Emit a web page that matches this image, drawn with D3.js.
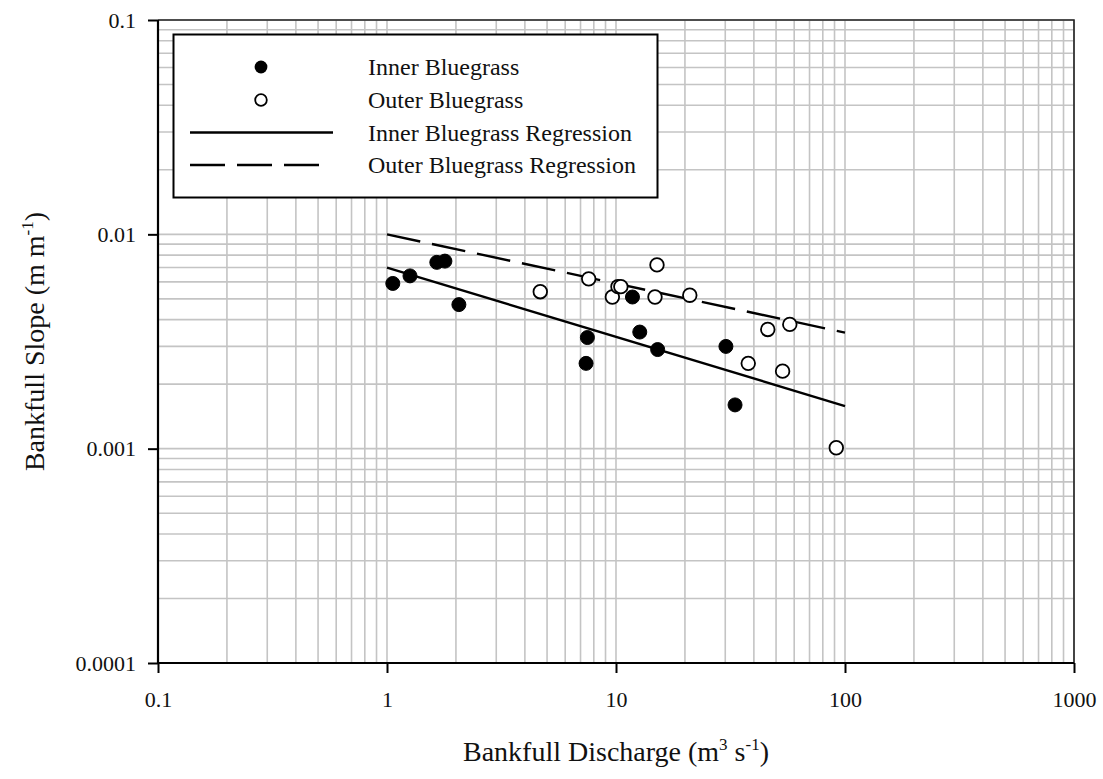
<!DOCTYPE html>
<html>
<head>
<meta charset="utf-8">
<script src="https://cdn.jsdelivr.net/npm/d3@7"></script>
<style>
  html, body { margin: 0; padding: 0; background: #fff; }
  svg { display: block; font-family: "Liberation Serif", "DejaVu Serif", serif; }
</style>
</head>
<body>
<svg id="chart" width="1103" height="779"></svg>
<script>
// Bankfull discharge (m^3/s) and slope (m/m) for each surveyed reach
const innerQ = [1.06, 1.26, 1.65, 1.79, 2.06, 7.5, 7.4, 11.8, 12.7, 15.2, 30.2, 33.1];
const innerS = [0.0059, 0.0064, 0.0074, 0.0075, 0.0047, 0.0033, 0.0025, 0.0051, 0.0035, 0.0029, 0.0030, 0.0016];

const outerQ = [4.67, 7.6, 9.64, 10.2, 10.5, 15.1, 14.8, 21.0, 46.0, 57.4, 37.8, 53.4, 91.6];
const outerS = [0.0054, 0.0062, 0.0051, 0.0057, 0.0057, 0.0072, 0.0051, 0.0052, 0.0036, 0.0038, 0.0025, 0.0023, 0.00101];

// Power-law regression lines, drawn between their end points
const innerFitQ = [1, 100];
const innerFitS = [0.0070, 0.00158];
const outerFitQ = [1, 100];
const outerFitS = [0.0100, 0.00348];

const xTickValues = [0.1, 1, 10, 100, 1000];
const xTickLabels = ["0.1", "1", "10", "100", "1000"];
const yTickValues = [0.0001, 0.001, 0.01, 0.1];
const yTickLabels = ["0.0001", "0.001", "0.01", "0.1"];

const legendLabels = ["Inner Bluegrass", "Outer Bluegrass", "Inner Bluegrass Regression", "Outer Bluegrass Regression"];

const svg = d3.select("#chart");
const plotL = 158, plotR = 1074, plotT = 20, plotB = 663;

const x = d3.scaleLog().domain([0.1, 1000]).range([plotL, plotR]);
const y = d3.scaleLog().domain([0.0001, 0.1]).range([plotB, plotT]);

// Grid lines at every 1..9 multiple of each decade
const xGrid = [];
for (let e = -1; e < 3; e++) for (let m = 1; m < 10; m++) xGrid.push(m * Math.pow(10, e));
xGrid.push(1000);
const yGrid = [];
for (let e = -4; e < -1; e++) for (let m = 1; m < 10; m++) yGrid.push(m * Math.pow(10, e));
yGrid.push(0.1);

const grid = svg.append("g").attr("stroke", "#c4c4c4").attr("stroke-width", 1.6);
grid.selectAll("line.gx").data(xGrid).join("line").attr("class", "gx")
  .attr("x1", d => x(d)).attr("x2", d => x(d))
  .attr("y1", plotT).attr("y2", plotB);
grid.selectAll("line.gy").data(yGrid).join("line").attr("class", "gy")
  .attr("x1", plotL).attr("x2", plotR)
  .attr("y1", d => y(d)).attr("y2", d => y(d));

// Top and right frame
svg.append("path")
  .attr("d", `M${plotL},${plotT}H${plotR}V${plotB}`)
  .attr("fill", "none").attr("stroke", "#222").attr("stroke-width", 1.6);

// Axes
const xAxis = d3.axisBottom(x).tickValues(xTickValues)
  .tickFormat((d, i) => xTickLabels[i]).tickSize(10).tickPadding(18);
const yAxis = d3.axisLeft(y).tickValues(yTickValues)
  .tickFormat((d, i) => yTickLabels[i]).tickSize(10).tickPadding(12);

const gx = svg.append("g").attr("transform", `translate(0,${plotB})`).call(xAxis);
const gy = svg.append("g").attr("transform", `translate(${plotL},0)`).call(yAxis);
[gx, gy].forEach(g => {
  g.select(".domain").attr("stroke", "#000").attr("stroke-width", 2.2);
  g.selectAll(".tick line").attr("stroke", "#000").attr("stroke-width", 2);
  g.selectAll(".tick text").attr("fill", "#111")
    .style("font-family", '"Liberation Serif", serif').style("font-size", "22px");
});
gx.select(".domain").attr("d", `M${plotL},0H${plotR}`);
gy.select(".domain").attr("d", `M0,${plotB}V${plotT}`);

// Regression lines
const line = d3.line().x(d => x(d[0])).y(d => y(d[1]));
svg.append("path")
  .datum(innerFitQ.map((q, i) => [q, innerFitS[i]]))
  .attr("d", line).attr("fill", "none").attr("stroke", "#000").attr("stroke-width", 2.4);
svg.append("path")
  .datum(outerFitQ.map((q, i) => [q, outerFitS[i]]))
  .attr("d", line).attr("fill", "none").attr("stroke", "#000").attr("stroke-width", 2.4)
  .attr("stroke-dasharray", "34,12");

// Data points
svg.append("g").selectAll("circle")
  .data(outerQ.map((q, i) => [q, outerS[i]])).join("circle")
  .attr("cx", d => x(d[0])).attr("cy", d => y(d[1])).attr("r", 6.8)
  .attr("fill", "#fff").attr("stroke", "#000").attr("stroke-width", 1.8);
svg.append("g").selectAll("circle")
  .data(innerQ.map((q, i) => [q, innerS[i]])).join("circle")
  .attr("cx", d => x(d[0])).attr("cy", d => y(d[1])).attr("r", 7)
  .attr("fill", "#000").attr("stroke", "#000").attr("stroke-width", 1);

// Legend
const lg = svg.append("g");
lg.append("rect").attr("x", 173.5).attr("y", 34.5).attr("width", 484).attr("height", 163)
  .attr("fill", "#fff").attr("stroke", "#000").attr("stroke-width", 2);
const rowsY = [67, 100, 132.5, 165];
lg.append("circle").attr("cx", 261).attr("cy", rowsY[0]).attr("r", 6.4).attr("fill", "#000");
lg.append("circle").attr("cx", 261).attr("cy", rowsY[1]).attr("r", 5.8)
  .attr("fill", "#fff").attr("stroke", "#000").attr("stroke-width", 1.8);
lg.append("line").attr("x1", 190).attr("x2", 333).attr("y1", rowsY[2]).attr("y2", rowsY[2])
  .attr("stroke", "#000").attr("stroke-width", 2.4);
lg.append("line").attr("x1", 190).attr("x2", 320).attr("y1", rowsY[3]).attr("y2", rowsY[3])
  .attr("stroke", "#000").attr("stroke-width", 2.4).attr("stroke-dasharray", "35,12");
lg.selectAll("text").data(legendLabels).join("text")
  .attr("x", 368).attr("y", (d, i) => rowsY[i] + 8)
  .attr("fill", "#111").style("font-size", "24px").text(d => d);

// Axis titles
const xt = svg.append("text").attr("x", (plotL + plotR) / 2).attr("y", 761)
  .attr("text-anchor", "middle").attr("fill", "#111").style("font-size", "28px");
xt.append("tspan").text("Bankfull Discharge (m");
xt.append("tspan").attr("dy", -11).style("font-size", "17px").text("3");
xt.append("tspan").attr("dy", 11).text(" s");
xt.append("tspan").attr("dy", -11).style("font-size", "17px").text("-1");
xt.append("tspan").attr("dy", 11).text(")");

const yt = svg.append("text")
  .attr("transform", `translate(44,${(plotT + plotB) / 2}) rotate(-90)`)
  .attr("text-anchor", "middle").attr("fill", "#111").style("font-size", "28px");
yt.append("tspan").text("Bankfull Slope (m m");
yt.append("tspan").attr("dy", -11).style("font-size", "17px").text("-1");
yt.append("tspan").attr("dy", 11).text(")");
</script>
</body>
</html>
